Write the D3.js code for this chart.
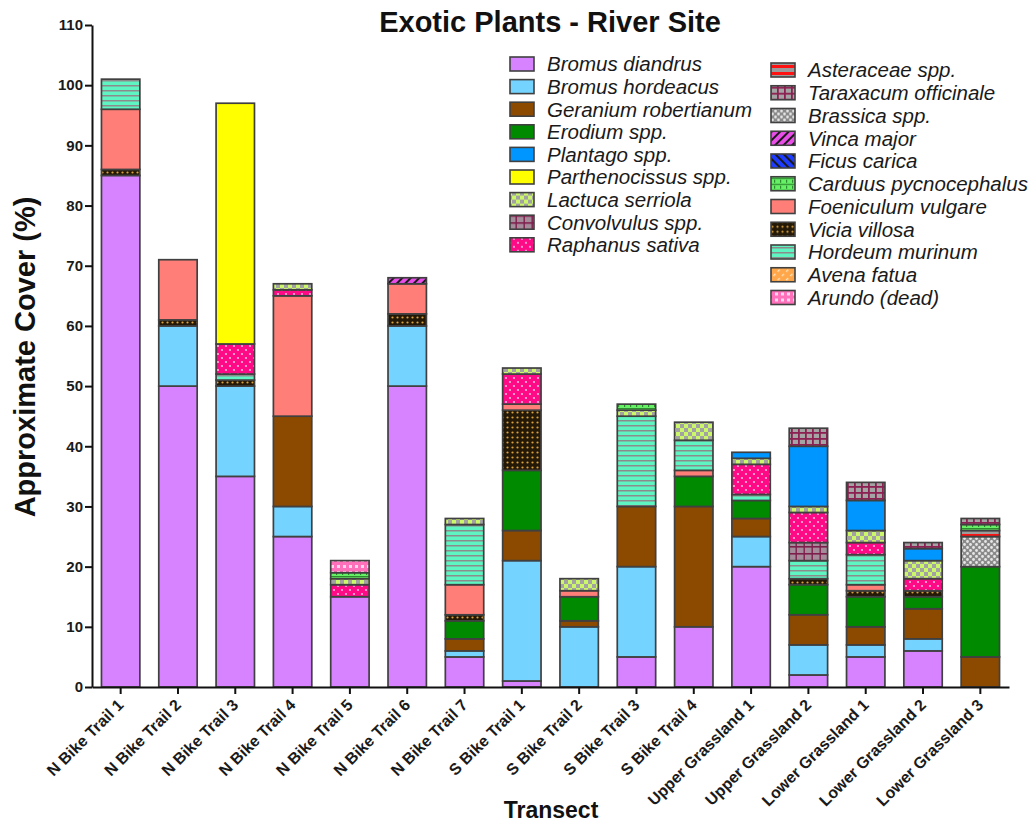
<!DOCTYPE html>
<html>
<head>
<meta charset="utf-8">
<script src="https://cdn.jsdelivr.net/npm/d3@7"></script>
<style>
  body { margin: 0; background: #fff; }
  text { font-family: "Liberation Sans", Arial, sans-serif; }
</style>
</head>
<body>
<svg id="chart" width="1036" height="824"></svg>
<script>
// ---- data: approximate percent cover per transect ----
const transects = [
  "N Bike Trail 1", "N Bike Trail 2", "N Bike Trail 3", "N Bike Trail 4",
  "N Bike Trail 5", "N Bike Trail 6", "N Bike Trail 7",
  "S Bike Trail 1", "S Bike Trail 2", "S Bike Trail 3", "S Bike Trail 4",
  "Upper Grassland 1", "Upper Grassland 2",
  "Lower Grassland 1", "Lower Grassland 2", "Lower Grassland 3"
];

const bromusDiandrus       = [85, 50, 35, 25, 15, 50, 5, 1, 0, 5, 10, 20, 2, 5, 6, 0];
const bromusHordeacus      = [0, 10, 15, 5, 0, 10, 1, 20, 10, 15, 0, 5, 5, 2, 2, 0];
const geraniumRobertianum  = [0, 0, 0, 15, 0, 0, 2, 5, 1, 10, 20, 3, 5, 3, 5, 5];
const erodiumSpp           = [0, 0, 0, 0, 0, 0, 3, 10, 4, 0, 5, 3, 5, 5, 2, 15];
const plantagoSpp          = [0, 0, 0, 0, 0, 0, 0, 0, 0, 0, 0, 1, 10, 5, 2, 0];
const parthenocissusSpp    = [0, 0, 40, 0, 0, 0, 0, 0, 0, 0, 0, 0, 0, 0, 0, 0];
const lactucaSerriola      = [0, 0, 0, 1, 1, 0, 1, 1, 2, 1, 3, 1, 1, 2, 3, 0];
const convolvulusSpp       = [0, 0, 0, 0, 0, 0, 0, 0, 0, 0, 0, 0, 3, 0, 0, 0];
const raphanusSativa       = [0, 0, 5, 1, 2, 0, 0, 5, 0, 0, 0, 5, 5, 2, 2, 0];
const asteraceaeSpp        = [0, 0, 0, 0, 0, 0, 0, 0, 0, 0, 0, 0, 0, 0, 0, 1];
const taraxacumOfficinale  = [0, 0, 0, 0, 0, 0, 0, 0, 0, 0, 0, 0, 3, 3, 1, 1];
const brassicaSpp          = [0, 0, 0, 0, 0, 0, 0, 0, 0, 0, 0, 0, 0, 0, 0, 5];
const vincaMajor           = [0, 0, 0, 0, 0, 1, 0, 0, 0, 0, 0, 0, 0, 0, 0, 0];
const ficusCarica          = [0, 0, 0, 0, 0, 0, 0, 0, 0, 0, 0, 0, 0, 0, 0, 0];
const carduusPycnocephalus = [0, 0, 0, 0, 1, 0, 0, 0, 0, 1, 0, 0, 0, 0, 0, 1];
const foeniculumVulgare    = [10, 10, 0, 20, 0, 5, 5, 1, 1, 0, 1, 0, 0, 1, 0, 0];
const viciaVillosa         = [1, 1, 1, 0, 0, 2, 1, 10, 0, 0, 0, 0, 1, 1, 1, 0];
const hordeumMurinum       = [5, 0, 1, 0, 0, 0, 10, 0, 0, 15, 5, 1, 3, 5, 0, 0];
const avenaFatua           = [0, 0, 0, 0, 0, 0, 0, 0, 0, 0, 0, 0, 0, 0, 0, 0];
const arundoDead           = [0, 0, 0, 0, 2, 0, 0, 0, 0, 0, 0, 0, 0, 0, 0, 0];

const yTickValues = [0, 10, 20, 30, 40, 50, 60, 70, 80, 90, 100, 110];

const seriesValues = {
  "Bromus diandrus": bromusDiandrus,
  "Bromus hordeacus": bromusHordeacus,
  "Geranium robertianum": geraniumRobertianum,
  "Erodium spp.": erodiumSpp,
  "Plantago spp.": plantagoSpp,
  "Parthenocissus spp.": parthenocissusSpp,
  "Lactuca serriola": lactucaSerriola,
  "Convolvulus spp.": convolvulusSpp,
  "Raphanus sativa": raphanusSativa,
  "Asteraceae spp.": asteraceaeSpp,
  "Taraxacum officinale": taraxacumOfficinale,
  "Brassica spp.": brassicaSpp,
  "Vinca major": vincaMajor,
  "Ficus carica": ficusCarica,
  "Carduus pycnocephalus": carduusPycnocephalus,
  "Foeniculum vulgare": foeniculumVulgare,
  "Vicia villosa": viciaVillosa,
  "Hordeum murinum": hordeumMurinum,
  "Avena fatua": avenaFatua,
  "Arundo (dead)": arundoDead
};

// legend columns
const legendLeft = [
  "Bromus diandrus", "Bromus hordeacus", "Geranium robertianum", "Erodium spp.",
  "Plantago spp.", "Parthenocissus spp.", "Lactuca serriola", "Convolvulus spp.",
  "Raphanus sativa"
];
const legendRight = [
  "Asteraceae spp.", "Taraxacum officinale", "Brassica spp.", "Vinca major",
  "Ficus carica", "Carduus pycnocephalus", "Foeniculum vulgare", "Vicia villosa",
  "Hordeum murinum", "Avena fatua", "Arundo (dead)"
];

// bottom-to-top stacking sequence of the segments
const stackOrder = [
  "Bromus diandrus", "Bromus hordeacus", "Geranium robertianum", "Erodium spp.",
  "Vicia villosa", "Foeniculum vulgare", "Hordeum murinum", "Convolvulus spp.",
  "Raphanus sativa", "Parthenocissus spp.", "Lactuca serriola", "Plantago spp.",
  "Brassica spp.", "Asteraceae spp.", "Carduus pycnocephalus", "Vinca major",
  "Arundo (dead)", "Taraxacum officinale", "Avena fatua", "Ficus carica"
];

// ---- drawing ----
const svg = d3.select("#chart");
const defs = svg.append("defs");

function pattern(id, w, h, bg, draw, rotate) {
  const p = defs.append("pattern")
    .attr("id", id)
    .attr("patternUnits", "userSpaceOnUse")
    .attr("width", w).attr("height", h);
  if (rotate) p.attr("patternTransform", `rotate(${rotate})`);
  p.append("rect").attr("width", w).attr("height", h).attr("fill", bg);
  draw(p);
  return `url(#${id})`;
}

const fills = {
  "Bromus diandrus": "#D783FF",
  "Bromus hordeacus": "#75D4FF",
  "Geranium robertianum": "#8C4A00",
  "Erodium spp.": "#008A00",
  "Plantago spp.": "#0096FF",
  "Parthenocissus spp.": "#FFFF00",
  "Foeniculum vulgare": "#FF7F78",
  "Lactuca serriola": pattern("p-lactuca", 8, 8, "#CCF76A", p => {
    p.append("rect").attr("x", 0).attr("y", 0).attr("width", 4).attr("height", 4).attr("fill", "#A2A2A2");
    p.append("rect").attr("x", 4).attr("y", 4).attr("width", 4).attr("height", 4).attr("fill", "#A2A2A2");
  }),
  "Convolvulus spp.": pattern("p-convolvulus", 8, 7, "#A48C9A", p => {
    p.append("rect").attr("x", 0).attr("y", 0).attr("width", 8).attr("height", 1.6).attr("fill", "#7E1E4C");
    p.append("rect").attr("x", 3.5).attr("y", 0).attr("width", 1.4).attr("height", 7).attr("fill", "#7E1E4C");
  }),
  "Raphanus sativa": pattern("p-raphanus", 8, 8, "#FF0A86", p => {
    p.append("circle").attr("cx", 2).attr("cy", 2).attr("r", 1.1).attr("fill", "#FFB6DA");
    p.append("circle").attr("cx", 6).attr("cy", 6).attr("r", 1.1).attr("fill", "#FFB6DA");
  }),
  "Asteraceae spp.": pattern("p-asteraceae", 8, 7, "#9C9C9C", p => {
    p.append("rect").attr("x", 0).attr("y", 2).attr("width", 8).attr("height", 3).attr("fill", "#FF1212");
  }),
  "Taraxacum officinale": pattern("p-taraxacum", 7, 6, "#A4A4A4", p => {
    p.append("rect").attr("x", 0).attr("y", 0).attr("width", 7).attr("height", 1.8).attr("fill", "#8C2052");
    p.append("rect").attr("x", 0).attr("y", 0).attr("width", 1.8).attr("height", 6).attr("fill", "#8C2052");
  }),
  "Brassica spp.": pattern("p-brassica", 6, 6, "#8A8A8A", p => {
    p.append("circle").attr("cx", 1.5).attr("cy", 1.5).attr("r", 1.4).attr("fill", "#E6E6E6");
    p.append("circle").attr("cx", 4.5).attr("cy", 4.5).attr("r", 1.4).attr("fill", "#E6E6E6");
  }),
  "Vinca major": pattern("p-vinca", 6, 6, "#E84DE8", p => {
    p.append("rect").attr("x", 0).attr("y", 0).attr("width", 2).attr("height", 6).attr("fill", "#1A1A1A");
  }, 45),
  "Ficus carica": pattern("p-ficus", 6, 6, "#1E3CFF", p => {
    p.append("rect").attr("x", 0).attr("y", 0).attr("width", 2).attr("height", 6).attr("fill", "#1A1A1A");
  }, -45),
  "Carduus pycnocephalus": pattern("p-carduus", 6, 6, "#66F066", p => {
    p.append("rect").attr("x", 0).attr("y", 0).attr("width", 6).attr("height", 1.2).attr("fill", "#2E8A2E");
    p.append("rect").attr("x", 0).attr("y", 2).attr("width", 1.2).attr("height", 3).attr("fill", "#2E8A2E");
  }),
  "Vicia villosa": pattern("p-vicia", 5, 5, "#241806", p => {
    p.append("circle").attr("cx", 2.5).attr("cy", 2.5).attr("r", 1.1).attr("fill", "#D9A040");
  }),
  "Hordeum murinum": pattern("p-hordeum", 4, 5, "#5EF5C3", p => {
    p.append("rect").attr("x", 0).attr("y", 0).attr("width", 4).attr("height", 1.5).attr("fill", "#8C8C8C");
  }),
  "Avena fatua": pattern("p-avena", 6, 6, "#FFA74A", p => {
    p.append("rect").attr("x", 0).attr("y", 1).attr("width", 3).attr("height", 1.4).attr("fill", "#FFE0B8");
  }, -45),
  "Arundo (dead)": pattern("p-arundo", 6, 6, "#FF70BA", p => {
    p.append("rect").attr("x", 1).attr("y", 1).attr("width", 3).attr("height", 3).attr("fill", "#FFD6EC");
  })
};

const x = d3.scaleBand()
  .domain(transects)
  .range([92, 1009])
  .paddingInner(0.33)
  .paddingOuter(0.165);

const y = d3.scaleLinear().domain([0, 110]).range([687, 25]);

const rows = transects.map((t, i) => {
  const r = { transect: t };
  stackOrder.forEach(k => { r[k] = seriesValues[k][i]; });
  return r;
});

const stacked = d3.stack().keys(stackOrder)(rows);

// bars
const layers = svg.append("g").attr("class", "bars")
  .selectAll("g")
  .data(stacked)
  .join("g")
  .attr("fill", d => fills[d.key]);

layers.selectAll("rect")
  .data(d => d.filter(s => s[1] - s[0] > 0))
  .join("rect")
  .attr("x", d => x(d.data.transect))
  .attr("width", x.bandwidth())
  .attr("y", d => y(d[1]))
  .attr("height", d => y(d[0]) - y(d[1]))
  .attr("stroke", "#404040")
  .attr("stroke-width", 1.7);

// y axis
const yAxis = svg.append("g")
  .attr("transform", "translate(92,0)")
  .call(d3.axisLeft(y).tickValues(yTickValues).tickSize(7).tickSizeOuter(0).tickPadding(2));
yAxis.select(".domain").attr("stroke", "#111").attr("stroke-width", 2);
yAxis.selectAll(".tick line").attr("stroke", "#111").attr("stroke-width", 2);
yAxis.selectAll(".tick text")
  .attr("font-size", 15).attr("font-weight", "bold").attr("fill", "#1a1a1a")
  .attr("font-family", "'Liberation Sans', Arial, sans-serif");

// x axis
const xAxis = svg.append("g")
  .attr("transform", "translate(0,687)")
  .call(d3.axisBottom(x).tickSize(7).tickSizeOuter(0));
xAxis.select(".domain").attr("stroke", "#111").attr("stroke-width", 2);
xAxis.selectAll(".tick line").attr("stroke", "#111").attr("stroke-width", 2);
xAxis.selectAll(".tick text")
  .attr("font-size", 16).attr("font-weight", "bold").attr("fill", "#1a1a1a")
  .attr("font-family", "'Liberation Sans', Arial, sans-serif")
  .attr("text-anchor", "end")
  .attr("dy", null).attr("y", null)
  .attr("transform", "translate(4,19) rotate(-45)");

// titles
svg.append("text")
  .attr("x", 550).attr("y", 32)
  .attr("text-anchor", "middle")
  .attr("font-size", 29).attr("font-weight", "bold").attr("fill", "#111")
  .text("Exotic Plants - River Site");

svg.append("text")
  .attr("transform", "translate(35,357) rotate(-90)")
  .attr("text-anchor", "middle")
  .attr("font-size", 29).attr("font-weight", "bold").attr("fill", "#111")
  .text("Approximate Cover (%)");

svg.append("text")
  .attr("x", 551).attr("y", 818)
  .attr("text-anchor", "middle")
  .attr("font-size", 23).attr("font-weight", "bold").attr("fill", "#111")
  .text("Transect");

// legend
function legendColumn(names, sx, tx, y0, step) {
  const g = svg.append("g").attr("class", "legend");
  const item = g.selectAll("g").data(names).join("g")
    .attr("transform", (d, i) => `translate(0,${y0 + i * step})`);
  item.append("rect")
    .attr("x", sx).attr("y", -7).attr("width", 24).attr("height", 14)
    .attr("fill", d => fills[d])
    .attr("stroke", "#404040").attr("stroke-width", 1.6);
  item.append("text")
    .attr("x", tx).attr("y", 0).attr("dy", "0.36em")
    .attr("font-size", 20.5).attr("font-style", "italic").attr("fill", "#1a1a1a")
    .text(d => d);
}
legendColumn(legendLeft, 510, 547, 64, 22.6);
legendColumn(legendRight, 771, 808, 70, 22.75);
</script>
</body>
</html>
